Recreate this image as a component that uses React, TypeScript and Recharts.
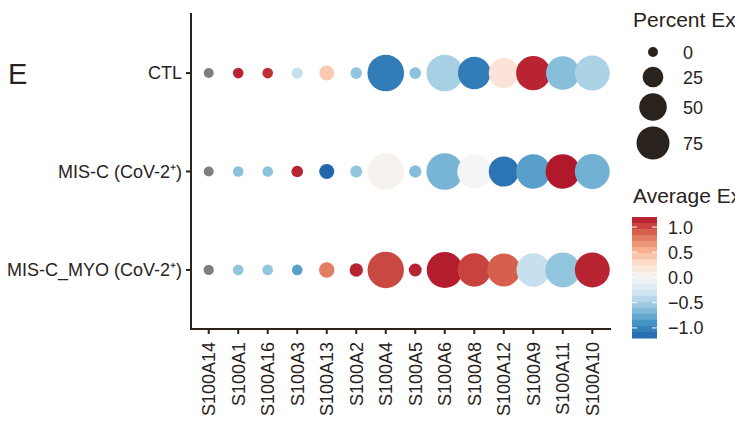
import { ScatterChart, Scatter, XAxis, YAxis, ZAxis, Cell } from 'recharts';

const genes = [
  'S100A14', 'S100A1', 'S100A16', 'S100A3', 'S100A13', 'S100A2', 'S100A4',
  'S100A5', 'S100A6', 'S100A8', 'S100A12', 'S100A9', 'S100A11', 'S100A10',
];
const groups = ['CTL', 'MIS-C (CoV-2⁺)', 'MIS-C_MYO (CoV-2⁺)'];

// percent expressed per gene
const pctCTL = [0, 1, 1, 2, 9.5, 2.7, 94, 2.7, 94, 73, 61, 82, 78, 85];
const pctMISC = [0, 1, 1, 2.7, 9.5, 3.4, 94, 4, 94, 80, 61, 82, 82, 85];
const pctMYO = [0.5, 1, 1, 1, 10.4, 6, 93, 5, 91, 77, 75, 78, 85, 85];

// average (scaled) expression, null = not expressed (grey)
const avgCTL = [null, 1.15, 1.1, -0.35, 0.4, -0.6, -1.05, -0.62, -0.5, -1.05, 0.2, 1.15, -0.64, -0.48];
const avgMISC = [null, -0.62, -0.62, 1.15, -1.2, -0.6, 0.05, -0.65, -0.7, -0.03, -1.1, -0.82, 1.2, -0.72];
const avgMYO = [null, -0.6, -0.6, -0.82, 0.78, 1.15, 1.0, 1.15, 1.18, 1.02, 0.9, -0.35, -0.6, 1.15];

const pctLegend = [0, 25, 50, 75];
const avgTicks = [1.0, 0.5, 0.0, -0.5, -1.0];

const COLOR_MIN = -1.2;
const COLOR_MAX = 1.2;
const RDBU = ['#2166ac', '#4393c3', '#92c5de', '#d1e5f0', '#f7f7f7', '#fddbc7', '#f4a582', '#d6604d', '#b2182b'];
const SIZE_RANGE: [number, number] = [78.5, 1114];

const FONT = "'Liberation Sans', Arial, Helvetica, sans-serif";
const INK = '#2a221c';

function hex(c: string) {
  return [1, 3, 5].map((i) => parseInt(c.slice(i, i + 2), 16));
}

function colorFor(v: number | null) {
  if (v === null) return '#7f7f7f';
  let t = (v - COLOR_MIN) / (COLOR_MAX - COLOR_MIN);
  t = Math.max(0, Math.min(1, t));
  const pos = t * (RDBU.length - 1);
  const i = Math.min(Math.floor(pos), RDBU.length - 2);
  const f = pos - i;
  const a = hex(RDBU[i]);
  const b = hex(RDBU[i + 1]);
  const m = a.map((x, k) => Math.round(x + (b[k] - x) * f));
  return `rgb(${m[0]},${m[1]},${m[2]})`;
}

function radiusFor(p: number) {
  const area = SIZE_RANGE[0] + ((SIZE_RANGE[1] - SIZE_RANGE[0]) * p) / 100;
  return Math.sqrt(area / Math.PI);
}

const rows = [
  { pct: pctCTL, avg: avgCTL },
  { pct: pctMISC, avg: avgMISC },
  { pct: pctMYO, avg: avgMYO },
];

const points = rows.flatMap((r, gi) =>
  genes.map((g, i) => ({ x: i + 1, y: gi + 1, gene: g, pct: r.pct[i], avg: r.avg[i] }))
);

const GeneTick = (props: any) => {
  const { x, y, payload } = props;
  return (
    <text
      x={x}
      y={y}
      transform={`rotate(-90, ${x}, ${y})`}
      textAnchor="end"
      dy="0.35em"
      fontSize={18}
      fontFamily={FONT}
      fill={INK}
    >
      {genes[payload.value - 1]}
    </text>
  );
};

export default function App() {
  const nBins = 20;
  const barTop = 217;
  const barH = 121;
  const binH = barH / nBins;
  const vToY = (v: number) => barTop + ((COLOR_MAX - v) / (COLOR_MAX - COLOR_MIN)) * barH;
  const legendY = [52, 77, 107, 143];

  return (
    <div style={{ position: 'absolute', left: 0, top: 0, width: 735, height: 428, overflow: 'hidden', background: '#fff' }}>
      <ScatterChart width={735} height={428} margin={{ top: 14, right: 125, bottom: 0, left: 0 }}>
        <XAxis
          type="number"
          dataKey="x"
          domain={[0.4, 14.6]}
          ticks={genes.map((_, i) => i + 1)}
          interval={0}
          height={99}
          tickSize={5}
          tickMargin={8}
          tick={<GeneTick />}
          axisLine={{ stroke: INK, strokeWidth: 2, strokeLinecap: 'square' }}
          tickLine={{ stroke: INK, strokeWidth: 2 }}
          allowDataOverflow
        />
        <YAxis
          type="number"
          dataKey="y"
          domain={[0.4, 3.6]}
          reversed
          ticks={[1, 2, 3]}
          interval={0}
          width={191}
          tickSize={5}
          tickMargin={4}
          tickFormatter={(v: number) => groups[v - 1]}
          tick={{ fontSize: 18, fontFamily: FONT, fill: INK }}
          axisLine={{ stroke: INK, strokeWidth: 2, strokeLinecap: 'square' }}
          tickLine={{ stroke: INK, strokeWidth: 2 }}
          allowDataOverflow
        />
        <ZAxis type="number" dataKey="pct" domain={[0, 100]} range={SIZE_RANGE} />
        <Scatter data={points} isAnimationActive={false} shape="circle">
          {points.map((p, i) => (
            <Cell key={i} fill={colorFor(p.avg)} />
          ))}
        </Scatter>
      </ScatterChart>

      <svg
        width={735}
        height={428}
        style={{ position: 'absolute', left: 0, top: 0, pointerEvents: 'none' }}
        fontFamily={FONT}
      >
        <text x={8} y={84} fontSize={29} fill={INK}>E</text>

        <text x={633} y={27} fontSize={21} fill={INK}>Percent Expressed</text>
        {pctLegend.map((p, i) => (
          <g key={p}>
            <circle cx={653} cy={legendY[i]} r={radiusFor(p)} fill={INK} />
            <text x={683} y={legendY[i] + 6.5} fontSize={18} fill={INK}>{p}</text>
          </g>
        ))}

        <text x={633} y={203} fontSize={21} fill={INK}>Average Expression</text>
        {Array.from({ length: nBins }, (_, b) => {
          const v = COLOR_MAX - ((b + 0.5) / nBins) * (COLOR_MAX - COLOR_MIN);
          return <rect key={b} x={632} y={barTop + b * binH} width={25} height={binH + 0.5} fill={colorFor(v)} />;
        })}
        {avgTicks.map((v) => (
          <g key={v}>
            <line x1={632} x2={637} y1={vToY(v)} y2={vToY(v)} stroke="#fff" strokeWidth={1} />
            <line x1={652} x2={657} y1={vToY(v)} y2={vToY(v)} stroke="#fff" strokeWidth={1} />
            <text x={668} y={vToY(v) + 6.5} fontSize={18} fill={INK}>
              {v < 0 ? `\u2212${Math.abs(v).toFixed(1)}` : v.toFixed(1)}
            </text>
          </g>
        ))}
      </svg>
    </div>
  );
}
